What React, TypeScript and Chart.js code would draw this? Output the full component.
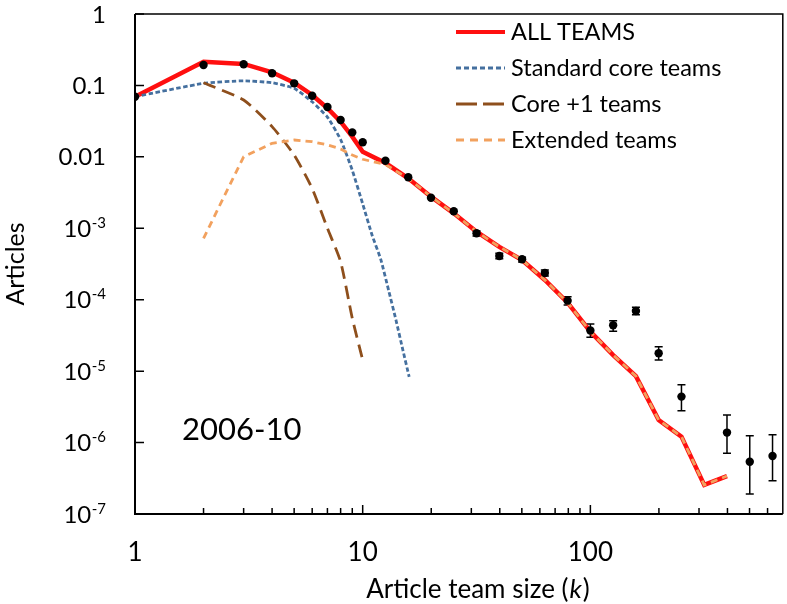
import React, { useEffect, useRef } from 'react';
import { Chart, registerables } from 'chart.js';

Chart.register(...registerables);

// ---- data ----
const dotK = [1, 2, 3, 4, 5, 6, 7, 8, 9, 10, 12.59, 15.85, 19.95, 25.12, 31.62, 39.81, 50.12, 63.1, 79.43, 100, 125.9, 158.5, 199.5, 251.2, 398.1, 501.2, 631];
const dotArticles = [0.0695, 0.193, 0.198, 0.148, 0.107, 0.0718, 0.0499, 0.0328, 0.022, 0.016, 0.00883, 0.00518, 0.00268, 0.00173, 0.000851, 0.000409, 0.000368, 0.000237, 0.000097, 0.000037, 0.000044, 0.0000695, 0.0000178, 0.0000044, 0.00000138, 0.00000054, 0.00000065];
const dotLow = [null, null, null, null, null, null, null, null, null, null, null, null, null, null, 0.00078, 0.000375, 0.000337, 0.000215, 0.0000843, 0.0000298, 0.0000361, 0.0000617, 0.0000143, 0.00000279, 0.000000708, 0.00000019, 0.000000292];
const dotHigh = [null, null, null, null, null, null, null, null, null, null, null, null, null, null, 0.000916, 0.000447, 0.000393, 0.000261, 0.00011, 0.0000457, 0.0000508, 0.0000783, 0.000022, 0.00000646, 0.00000243, 0.00000125, 0.00000129];

const allK = [1, 2, 3, 4, 5, 6, 7, 8, 9, 10, 12.59, 15.85, 19.95, 25.12, 31.62, 39.81, 50.12, 63.1, 79.43, 100, 125.9, 158.5, 199.5, 251.2, 316.2, 398.1];
const allArticles = [0.0695, 0.215, 0.2, 0.153, 0.109, 0.0735, 0.0479, 0.0311, 0.0192, 0.0118, 0.0082, 0.005, 0.00277, 0.00162, 0.000897, 0.00055, 0.00036, 0.000189, 0.000091, 0.0000357, 0.0000168, 0.0000085, 0.00000207, 0.00000121, 0.000000255, 0.00000034];

const coreK = [1, 2, 3, 4, 5, 6, 7, 8, 9, 10, 11, 12, 13, 14, 15, 16];
const coreArticles = [0.0695, 0.107, 0.116, 0.109, 0.0912, 0.059, 0.036, 0.0175, 0.0065, 0.0022, 0.0008, 0.00037, 0.000135, 0.000052, 0.00002, 0.0000083];

const corePlusK = [2, 3, 4, 5, 6, 7, 8, 9, 10];
const corePlusArticles = [0.109, 0.0625, 0.0265, 0.0106, 0.0036, 0.001, 0.00034, 0.000055, 0.0000143];

const extK = [2, 3, 4, 5, 6, 7, 8, 9, 10, 12.59, 15.85, 19.95, 25.12, 31.62, 39.81, 50.12, 63.1, 79.43, 100, 125.9, 158.5, 199.5, 251.2, 316.2, 398.1];
const extArticles = [0.000724, 0.01, 0.0155, 0.0172, 0.0163, 0.0147, 0.0129, 0.0106, 0.00925, 0.0078, 0.005, 0.00277, 0.00162, 0.000897, 0.00055, 0.00036, 0.000189, 0.000091, 0.0000357, 0.0000168, 0.0000085, 0.00000207, 0.00000121, 0.000000255, 0.00000034];

const xTickValues = [1, 2, 3, 4, 5, 6, 7, 8, 9, 10, 20, 30, 40, 50, 60, 70, 80, 90, 100, 200, 300, 400, 500, 600];
const xLabelValues = [1, 10, 100];
const xLabelTexts = ['1', '10', '100'];
const yTickValues = [1, 0.1, 0.01, 0.001, 0.0001, 0.00001, 0.000001, 0.0000001];
const yLabelMain = ['1', '0.1', '0.01', '10', '10', '10', '10', '10'];
const yLabelSup = ['', '', '', '-3', '-4', '-5', '-6', '-7'];

const seriesLabels = ['ALL TEAMS', 'Standard core teams', 'Core +1 teams', 'Extended teams'];
const seriesColors = ['#ff0f0f', '#45709f', '#8e4f1c', '#f2a15e'];

const FONT = 'Lato, "Open Sans", sans-serif';

const pts = (xs: number[], ys: number[]) => xs.map((x, i) => ({ x, y: ys[i] }));

const decor = {
  id: 'decor',
  beforeDatasetsDraw(chart: any) {
    const { ctx } = chart;
    const x = chart.scales.x;
    const y = chart.scales.y;
    ctx.save();
    ctx.strokeStyle = '#000';
    ctx.lineWidth = 1.5;
    dotK.forEach((k, i) => {
      const lo = dotLow[i];
      const hi = dotHigh[i];
      if (lo == null || hi == null) return;
      const px = x.getPixelForValue(k);
      const y1 = y.getPixelForValue(hi);
      const y2 = y.getPixelForValue(lo);
      ctx.beginPath();
      ctx.moveTo(px, y1);
      ctx.lineTo(px, y2);
      ctx.moveTo(px - 4, y1);
      ctx.lineTo(px + 4, y1);
      ctx.moveTo(px - 4, y2);
      ctx.lineTo(px + 4, y2);
      ctx.stroke();
    });
    ctx.restore();
  },
  afterDraw(chart: any) {
    const { ctx, chartArea: a } = chart;
    const x = chart.scales.x;
    const y = chart.scales.y;
    ctx.save();
    // frame
    ctx.strokeStyle = '#000';
    ctx.lineWidth = 1.5;
    ctx.beginPath();
    ctx.moveTo(a.left, a.top);
    ctx.lineTo(a.right, a.top);
    ctx.lineTo(a.right, a.bottom);
    ctx.stroke();
    ctx.lineWidth = 2;
    ctx.beginPath();
    ctx.moveTo(a.left, a.top);
    ctx.lineTo(a.left, a.bottom);
    ctx.lineTo(a.right, a.bottom);
    ctx.stroke();
    // ticks
    ctx.lineWidth = 1.5;
    ctx.beginPath();
    xTickValues.forEach((v) => {
      const px = x.getPixelForValue(v);
      const len = xLabelValues.includes(v) ? 9 : 6;
      ctx.moveTo(px, a.bottom);
      ctx.lineTo(px, a.bottom - len);
    });
    yTickValues.forEach((v) => {
      const py = y.getPixelForValue(v);
      ctx.moveTo(a.left, py);
      ctx.lineTo(a.left + 9, py);
    });
    ctx.stroke();
    // x labels
    ctx.fillStyle = '#000';
    ctx.font = `26px ${FONT}`;
    ctx.textAlign = 'center';
    ctx.textBaseline = 'middle';
    xLabelValues.forEach((v, i) => {
      ctx.fillText(xLabelTexts[i], x.getPixelForValue(v), 553);
    });
    // y labels
    const right = 106;
    yTickValues.forEach((v, i) => {
      const py = y.getPixelForValue(v);
      ctx.textBaseline = 'alphabetic';
      ctx.textAlign = 'left';
      const sup = yLabelSup[i];
      ctx.font = `15px ${FONT}`;
      const sw = sup ? ctx.measureText(sup).width : 0;
      if (sup) ctx.fillText(sup, right - sw, py - 0.5);
      ctx.font = `24px ${FONT}`;
      ctx.textAlign = 'right';
      ctx.fillText(yLabelMain[i], right - sw - (sup ? 0.5 : 0), py + 8.5);
    });
    // axis titles
    const tf = 26;
    ctx.textBaseline = 'alphabetic';
    const p1 = 'Article team size (';
    const p2 = 'k';
    const p3 = ')';
    ctx.font = `${tf}px ${FONT}`;
    const w1 = ctx.measureText(p1).width;
    const w3 = ctx.measureText(p3).width;
    ctx.font = `italic ${tf}px ${FONT}`;
    const w2 = ctx.measureText(p2).width;
    const total = w1 + w2 + w3 + 2;
    const sx = 478 - total / 2;
    ctx.textAlign = 'left';
    ctx.font = `${tf}px ${FONT}`;
    ctx.fillText(p1, sx, 598);
    ctx.font = `italic ${tf}px ${FONT}`;
    ctx.fillText(p2, sx + w1 + 1, 598);
    ctx.font = `${tf}px ${FONT}`;
    ctx.fillText(p3, sx + w1 + w2 + 2, 598);

    ctx.save();
    ctx.translate(16, 264);
    ctx.rotate(-Math.PI / 2);
    ctx.textAlign = 'center';
    ctx.textBaseline = 'middle';
    ctx.font = `25px ${FONT}`;
    ctx.fillText('Articles', 0, 0);
    ctx.restore();

    // period annotation
    ctx.font = `31px ${FONT}`;
    ctx.textAlign = 'left';
    ctx.textBaseline = 'alphabetic';
    ctx.fillText('2006-10', 182, 440);

    // legend
    const rows = [32, 68, 104, 140];
    const dashes = [[], [5, 3], [21, 6], [8, 6]];
    const widths = [4, 2.8, 2.8, 2.8];
    seriesLabels.forEach((lab, i) => {
      const ly = rows[i];
      ctx.beginPath();
      ctx.setLineDash(dashes[i]);
      ctx.strokeStyle = seriesColors[i];
      ctx.lineWidth = widths[i];
      ctx.moveTo(456, ly);
      ctx.lineTo(505, ly);
      ctx.stroke();
      ctx.setLineDash([]);
      ctx.fillStyle = '#000';
      ctx.font = `23.5px ${FONT}`;
      ctx.textAlign = 'left';
      ctx.textBaseline = 'middle';
      ctx.fillText(lab, 511, ly);
    });
    ctx.restore();
  },
};

export default function App() {
  const ref = useRef<HTMLCanvasElement | null>(null);
  useEffect(() => {
    document.body.style.margin = '0';
    const canvas = ref.current;
    if (!canvas) return;
    const chart = new Chart(canvas, {
      type: 'line',
      data: {
        datasets: [
          {
            type: 'scatter',
            label: 'Data',
            data: pts(dotK, dotArticles),
            pointRadius: 4.2,
            pointBackgroundColor: '#000',
            pointBorderColor: '#000',
            pointBorderWidth: 0,
            showLine: false,
          } as any,
          {
            label: seriesLabels[3],
            data: pts(extK, extArticles),
            borderColor: seriesColors[3],
            borderDash: [7, 5],
            borderWidth: 2.8,
            pointRadius: 0,
            fill: false,
          },
          {
            label: seriesLabels[2],
            data: pts(corePlusK, corePlusArticles),
            borderColor: seriesColors[2],
            borderDash: [13, 7],
            borderWidth: 2.8,
            pointRadius: 0,
            tension: 0.2,
            fill: false,
          },
          {
            label: seriesLabels[1],
            data: pts(coreK, coreArticles),
            borderColor: seriesColors[1],
            borderDash: [4.5, 2.5],
            borderWidth: 2.8,
            pointRadius: 0,
            tension: 0.15,
            fill: false,
          },
          {
            label: seriesLabels[0],
            data: pts(allK, allArticles),
            borderColor: seriesColors[0],
            borderWidth: 4.5,
            pointRadius: 0,
            fill: false,
          },
        ],
      },
      options: {
        animation: false,
        responsive: false,
        maintainAspectRatio: false,
        layout: { padding: { left: 0, top: 14, right: 4, bottom: 0 } },
        plugins: { legend: { display: false }, tooltip: { enabled: false } },
        scales: {
          x: {
            type: 'logarithmic',
            min: 1,
            max: 700,
            ticks: { display: false },
            grid: { display: false },
            border: { display: false },
            afterFit: (s: any) => {
              s.height = 90;
            },
          },
          y: {
            type: 'logarithmic',
            min: 1e-7,
            max: 1,
            ticks: { display: false },
            grid: { display: false },
            border: { display: false },
            afterFit: (s: any) => {
              s.width = 135;
            },
          },
        },
      } as any,
      plugins: [decor],
    });
    return () => chart.destroy();
  }, []);
  return (
    <canvas
      ref={ref}
      width={787}
      height={604}
      style={{ display: 'block', width: 787, height: 604 }}
    />
  );
}
